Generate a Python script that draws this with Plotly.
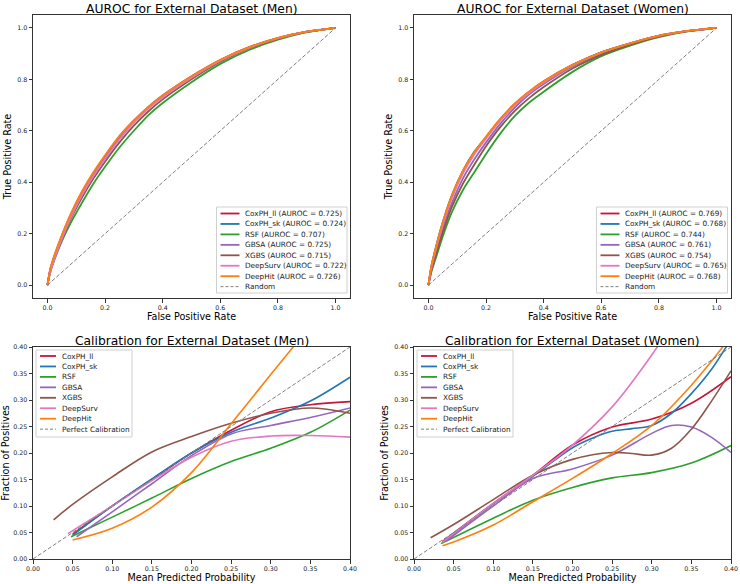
import plotly.graph_objects as go

W, H = 740, 584
FONT = "DejaVu Sans"

MODELS = ["CoxPH_ll", "CoxPH_sk", "RSF", "GBSA", "XGBS", "DeepSurv", "DeepHit"]
COLORS = ["#c8143c", "#1f77b4", "#2ca02c", "#9467bd", "#8c564b", "#e377c2", "#ff7f0e"]

AUROC_MEN = [0.725, 0.724, 0.707, 0.725, 0.715, 0.722, 0.726]
AUROC_WOMEN = [0.769, 0.768, 0.744, 0.761, 0.754, 0.765, 0.768]

FPR_GRID = [0, 0.01, 0.03, 0.05, 0.08, 0.12, 0.16, 0.2, 0.25, 0.3, 0.35, 0.4, 0.5, 0.6, 0.7, 0.8, 0.9, 1.0]

TPR_MEN = {
    "CoxPH_ll": [0, 0.06, 0.13, 0.19, 0.27, 0.36, 0.435, 0.50, 0.575, 0.635, 0.69, 0.735, 0.81, 0.875, 0.925, 0.96, 0.985, 1],
    "CoxPH_sk": [0, 0.06, 0.13, 0.19, 0.27, 0.355, 0.43, 0.50, 0.57, 0.635, 0.69, 0.735, 0.81, 0.873, 0.923, 0.96, 0.985, 1],
    "RSF": [0, 0.05, 0.115, 0.17, 0.24, 0.32, 0.395, 0.46, 0.535, 0.60, 0.66, 0.708, 0.789, 0.86, 0.914, 0.954, 0.983, 1],
    "GBSA": [0, 0.06, 0.13, 0.19, 0.27, 0.36, 0.435, 0.50, 0.578, 0.64, 0.693, 0.738, 0.812, 0.875, 0.924, 0.96, 0.985, 1],
    "XGBS": [0, 0.055, 0.12, 0.178, 0.255, 0.34, 0.415, 0.48, 0.555, 0.62, 0.675, 0.722, 0.8, 0.868, 0.92, 0.957, 0.984, 1],
    "DeepSurv": [0, 0.05, 0.12, 0.18, 0.26, 0.35, 0.425, 0.49, 0.567, 0.632, 0.685, 0.73, 0.806, 0.872, 0.922, 0.959, 0.985, 1],
    "DeepHit": [0, 0.065, 0.135, 0.195, 0.275, 0.365, 0.44, 0.505, 0.58, 0.64, 0.692, 0.737, 0.812, 0.876, 0.925, 0.961, 0.985, 1],
}

TPR_WOMEN = {
    "CoxPH_ll": [0, 0.07, 0.16, 0.24, 0.34, 0.44, 0.515, 0.575, 0.645, 0.705, 0.752, 0.792, 0.856, 0.905, 0.94, 0.97, 0.988, 1],
    "CoxPH_sk": [0, 0.07, 0.165, 0.245, 0.345, 0.445, 0.52, 0.575, 0.643, 0.703, 0.75, 0.79, 0.855, 0.905, 0.94, 0.969, 0.988, 1],
    "RSF": [0, 0.05, 0.12, 0.19, 0.28, 0.37, 0.44, 0.51, 0.59, 0.658, 0.71, 0.752, 0.829, 0.89, 0.931, 0.964, 0.986, 1],
    "GBSA": [0, 0.06, 0.145, 0.22, 0.315, 0.415, 0.49, 0.555, 0.628, 0.69, 0.742, 0.782, 0.85, 0.9, 0.937, 0.968, 0.987, 1],
    "XGBS": [0, 0.055, 0.135, 0.205, 0.3, 0.395, 0.47, 0.54, 0.615, 0.677, 0.728, 0.77, 0.842, 0.895, 0.935, 0.966, 0.987, 1],
    "DeepSurv": [0, 0.065, 0.155, 0.235, 0.335, 0.435, 0.51, 0.57, 0.64, 0.70, 0.748, 0.788, 0.854, 0.904, 0.94, 0.969, 0.988, 1],
    "DeepHit": [0, 0.075, 0.165, 0.245, 0.345, 0.445, 0.518, 0.578, 0.647, 0.706, 0.753, 0.792, 0.856, 0.905, 0.94, 0.97, 0.988, 1],
}

CAL_MEN = {
    "CoxPH_ll": ([0.05, 0.10, 0.15, 0.20, 0.25, 0.30, 0.35, 0.40],
                 [0.047, 0.100, 0.150, 0.200, 0.243, 0.278, 0.291, 0.297]),
    "CoxPH_sk": ([0.05, 0.10, 0.15, 0.20, 0.25, 0.30, 0.35, 0.40],
                 [0.045, 0.100, 0.151, 0.200, 0.239, 0.266, 0.298, 0.343]),
    "RSF": ([0.048, 0.10, 0.15, 0.20, 0.25, 0.30, 0.35, 0.40],
            [0.042, 0.079, 0.115, 0.152, 0.184, 0.209, 0.239, 0.281]),
    "GBSA": ([0.055, 0.10, 0.15, 0.20, 0.25, 0.30, 0.35, 0.40],
             [0.042, 0.089, 0.142, 0.195, 0.236, 0.252, 0.267, 0.285]),
    "XGBS": ([0.026, 0.05, 0.10, 0.15, 0.20, 0.25, 0.30, 0.35, 0.40],
             [0.074, 0.103, 0.155, 0.202, 0.231, 0.256, 0.275, 0.285, 0.275]),
    "DeepSurv": ([0.044, 0.10, 0.15, 0.20, 0.25, 0.30, 0.35, 0.40],
                 [0.048, 0.100, 0.148, 0.192, 0.222, 0.232, 0.233, 0.230]),
    "DeepHit": ([0.05, 0.10, 0.15, 0.20, 0.25, 0.30, 0.35],
                [0.036, 0.058, 0.098, 0.163, 0.255, 0.348, 0.44]),
}

CAL_WOMEN = {
    "CoxPH_ll": ([0.036, 0.10, 0.15, 0.20, 0.25, 0.30, 0.35, 0.40],
                 [0.033, 0.105, 0.158, 0.215, 0.249, 0.264, 0.294, 0.344]),
    "CoxPH_sk": ([0.036, 0.10, 0.15, 0.20, 0.225, 0.25, 0.275, 0.30, 0.325, 0.35, 0.375, 0.40],
                 [0.031, 0.104, 0.156, 0.210, 0.228, 0.241, 0.246, 0.252, 0.275, 0.312, 0.357, 0.415]),
    "RSF": ([0.034, 0.10, 0.15, 0.20, 0.25, 0.30, 0.35, 0.40],
            [0.029, 0.077, 0.111, 0.135, 0.153, 0.163, 0.181, 0.214]),
    "GBSA": ([0.04, 0.10, 0.15, 0.20, 0.25, 0.30, 0.325, 0.35, 0.375, 0.40],
             [0.033, 0.100, 0.152, 0.170, 0.196, 0.237, 0.252, 0.249, 0.230, 0.201]),
    "XGBS": ([0.021, 0.05, 0.10, 0.15, 0.20, 0.25, 0.275, 0.30, 0.325, 0.35, 0.375, 0.40],
             [0.040, 0.065, 0.112, 0.158, 0.188, 0.201, 0.199, 0.196, 0.209, 0.245, 0.297, 0.355]),
    "DeepSurv": ([0.036, 0.10, 0.15, 0.20, 0.25, 0.30, 0.35],
                 [0.032, 0.105, 0.158, 0.215, 0.287, 0.385, 0.50]),
    "DeepHit": ([0.036, 0.05, 0.10, 0.15, 0.20, 0.25, 0.30, 0.35, 0.40],
                [0.025, 0.032, 0.064, 0.108, 0.152, 0.199, 0.252, 0.328, 0.42]),
}

TITLES = ["AUROC for External Dataset (Men)", "AUROC for External Dataset (Women)",
          "Calibration for External Dataset (Men)", "Calibration for External Dataset (Women)"]


def px_x(p):
    return p / W


def px_y(p):
    return 1 - p / H


fig = go.Figure()

panels = [
    ("x", "y", TPR_MEN, None),
    ("x2", "y2", TPR_WOMEN, None),
    ("x3", "y3", None, CAL_MEN),
    ("x4", "y4", None, CAL_WOMEN),
]

for xa, ya, roc, cal in panels:
    for m, c in zip(MODELS, COLORS):
        if roc is not None:
            fig.add_trace(go.Scatter(x=FPR_GRID, y=roc[m], mode="lines", xaxis=xa, yaxis=ya,
                                     line=dict(color=c, width=1.8, shape="spline", smoothing=0.6),
                                     showlegend=False, name=m))
        else:
            xs, ys = cal[m]
            fig.add_trace(go.Scatter(x=xs, y=ys, mode="lines", xaxis=xa, yaxis=ya,
                                     line=dict(color=c, width=1.6, shape="spline", smoothing=1.0),
                                     showlegend=False, name=m))
    fig.add_trace(go.Scatter(x=[0, 1], y=[0, 1], mode="lines", xaxis=xa, yaxis=ya,
                             line=dict(color="gray", width=1, dash="4px,2px"),
                             showlegend=False, name="Random" if roc is not None else "Perfect Calibration"))

# layout / axes
dom_x = [(33, 350), (414, 731)]
dom_y = [(15, 298), (347, 559)]

axis_common = dict(showline=True, mirror=True, linecolor="#333", linewidth=1, ticks="outside",
                   ticklen=3.5, tickwidth=0.8, tickcolor="#333", showgrid=False, zeroline=False,
                   tickfont=dict(family=FONT, size=6.3, color="#222"), automargin=False)

layout = dict(width=W, height=H, margin=dict(l=0, r=0, t=0, b=0), plot_bgcolor="white",
              paper_bgcolor="white", font=dict(family=FONT), showlegend=False)

for i in range(4):
    row, col = divmod(i, 2)
    sfx = "" if i == 0 else str(i + 1)
    x0, x1 = dom_x[col]
    y0, y1 = dom_y[row]
    if row == 0:
        xr, yr, dt, fmt = [-0.05, 1.05], [-0.05, 1.05], 0.2, ".1f"
        xt, yt = "False Positive Rate", "True Positive Rate"
    else:
        xr, yr, dt, fmt = [0, 0.4], [0, 0.4], 0.05, ".2f"
        xt, yt = "Mean Predicted Probability", "Fraction of Positives"
    layout["xaxis" + sfx] = dict(axis_common, domain=[px_x(x0), px_x(x1)], range=xr, dtick=dt, tick0=0,
                                 tickformat=fmt, anchor="y" + sfx,
                                 title=dict(text=xt, standoff=0, font=dict(family=FONT, size=9.6, color="black")))
    layout["yaxis" + sfx] = dict(axis_common, domain=[px_y(y1), px_y(y0)], range=yr, dtick=dt, tick0=0,
                                 tickformat=fmt, anchor="x" + sfx,
                                 title=dict(text=yt, standoff=3, font=dict(family=FONT, size=9.6, color="black")))

fig.update_layout(**layout)

# titles
title_pos = [(191.5, 9), (572.5, 9), (191.5, 340.5), (572.5, 340.5)]
for t, (tx, ty) in zip(TITLES, title_pos):
    fig.add_annotation(text=t, x=px_x(tx), y=px_y(ty), xref="paper", yref="paper",
                       xanchor="center", yanchor="middle", showarrow=False,
                       font=dict(family=FONT, size=12.3, color="black"))

# legends (matplotlib-style boxes, built from model names / colours / scores)
men_labels = [f"{m} (AUROC = {a:.3f})" for m, a in zip(MODELS, AUROC_MEN)] + ["Random"]
women_labels = [f"{m} (AUROC = {a:.3f})" for m, a in zip(MODELS, AUROC_WOMEN)] + ["Random"]
cal_labels = MODELS + ["Perfect Calibration"]
leg_colors = COLORS + ["gray"]

# (box left, box right, box top, box bottom, first row centre, swatch len, text offset)
legends = [
    (men_labels, 216.5, 347, 207, 293, 213.5, 19, 26),
    (women_labels, 596.5, 727.5, 207, 293, 213.5, 19, 26),
    (cal_labels, 36, 132, 350, 437, 356, 16, 24),
    (cal_labels, 417, 513, 350, 437, 356, 16, 24),
]
ROW = 10.45

for labels, bl, br, bt, bb, r0, sw, to in legends:
    fig.add_shape(type="rect", xref="paper", yref="paper",
                  x0=px_x(bl), x1=px_x(br), y0=px_y(bb), y1=px_y(bt),
                  line=dict(color="#d0d0d0", width=1), fillcolor="rgba(255,255,255,0.85)", layer="above")
    for k, (lab, c) in enumerate(zip(labels, leg_colors)):
        ry = r0 + k * ROW
        dashed = k == len(labels) - 1
        fig.add_shape(type="line", xref="paper", yref="paper",
                      x0=px_x(bl + 4), x1=px_x(bl + 4 + sw), y0=px_y(ry), y1=px_y(ry),
                      line=dict(color=c, width=1 if dashed else 1.8, dash="3px,2px" if dashed else "solid"),
                      layer="above")
        fig.add_annotation(text=lab, x=px_x(bl + to), y=px_y(ry), xref="paper", yref="paper",
                           xanchor="left", yanchor="middle", showarrow=False,
                           font=dict(family=FONT, size=7.3, color="#222"))

fig.write_html("out.html")
